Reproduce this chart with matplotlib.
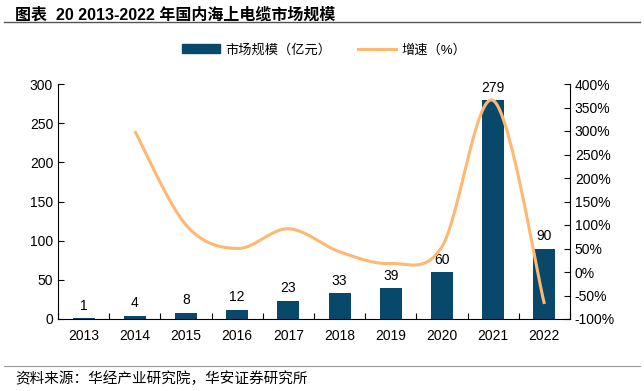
import numpy as np
import matplotlib
matplotlib.use("Agg")
import matplotlib.pyplot as plt
from matplotlib.patches import Patch
from matplotlib.lines import Line2D

years = ["2013", "2014", "2015", "2016", "2017", "2018", "2019", "2020", "2021", "2022"]
market = [1, 4, 8, 12, 23, 33, 39, 60, 279, 90]
growth = [None, 300, 100, 50, 92, 43, 18, 54, 365, -68]

left_ticks = [0, 50, 100, 150, 200, 250, 300]
right_ticks = [-100, -50, 0, 50, 100, 150, 200, 250, 300, 350, 400]

BAR = "#08486B"
LINE = "#FFB870"
FAM = ["Liberation Sans", "Noto Sans CJK SC"]
plt.rcParams["font.family"] = FAM

fig = plt.figure(figsize=(6.44, 3.91), dpi=100)
ax = fig.add_axes([58/644, 1-319/391, (570-58)/644, (319-84)/391])
ax2 = ax.twinx()

x = np.arange(len(years))
ax.bar(x, market, width=0.43, color=BAR, zorder=2)
for xi, v in zip(x, market):
    ax.text(xi, v + 7, str(v), ha="center", va="bottom", fontsize=10, color="black")

ax.set_xlim(-0.5, len(years) - 0.5)
ax.set_ylim(0, 300)
ax.set_yticks(left_ticks)
ax.set_xticks(x)
ax.set_xticklabels(years)
ax.set_xticks(np.arange(-0.5, len(years), 1.0), minor=True)
ax.tick_params(axis="x", which="major", length=0, pad=7, labelsize=10)
ax.tick_params(axis="x", which="minor", length=4, direction="in", width=0.8)
ax.tick_params(axis="y", length=4, direction="in", labelsize=10, width=0.8)
for s in ["top", "right"]:
    ax.spines[s].set_visible(False)

# smoothed growth line (Excel style Bezier smoothing through the points)
gx = np.array([xi for xi, g in zip(x, growth) if g is not None], dtype=float)
gy = np.array([g for g in growth if g is not None], dtype=float)
pts = np.column_stack([gx, gy])
curve = []
n = len(pts)
t = np.linspace(0, 1, 40)
for i in range(n - 1):
    p0 = pts[i - 1] if i > 0 else pts[i]
    p1 = pts[i]
    p2 = pts[i + 1]
    p3 = pts[i + 2] if i + 2 < n else pts[i + 1]
    c1 = p1 + (p2 - p0) / 6
    c2 = p2 - (p3 - p1) / 6
    seg = ((1 - t)[:, None] ** 3 * p1 + 3 * ((1 - t) ** 2 * t)[:, None] * c1
           + 3 * ((1 - t) * t ** 2)[:, None] * c2 + (t ** 3)[:, None] * p2)
    curve.append(seg)
curve = np.vstack(curve)
ax2.plot(curve[:, 0], curve[:, 1], color=LINE, lw=2.2, solid_capstyle="butt", zorder=3)
ax2.set_ylim(-100, 400)
ax2.set_yticks(right_ticks)
ax2.set_yticklabels([f"{v}%" for v in right_ticks])
ax2.tick_params(axis="y", length=4, direction="in", labelsize=10, width=0.8)
for s in ["top", "left", "bottom"]:
    ax2.spines[s].set_visible(False)
ax.set_xlim(-0.5, len(years) - 0.5)

handles = [Patch(color=BAR), Line2D([0], [0], color=LINE, lw=2.2)]
fig.legend(handles, ["市场规模（亿元）", "增速（%）"], loc="center",
           bbox_to_anchor=(324/644, 1-50/391), ncol=2, frameon=False,
           fontsize=9.5, handlelength=2.9, columnspacing=2.0, handletextpad=0.4)

fig.text(15/644, 1-15/391, "图表  20 2013-2022 年国内海上电缆市场规模", fontsize=11.5,
         fontweight="bold", ha="left", va="center", family=FAM)
fig.add_artist(Line2D([4/644, 640/644], [1-22/391, 1-22/391], color="#555555", lw=1.0))
fig.add_artist(Line2D([4/644, 640/644], [1-366/391, 1-366/391], color="#999999", lw=0.8))
fig.text(15/644, 1-379/391, "资料来源：华经产业研究院，华安证券研究所", fontsize=10.5,
         ha="left", va="center", family=FAM)

fig.savefig("out.png", dpi=100)
